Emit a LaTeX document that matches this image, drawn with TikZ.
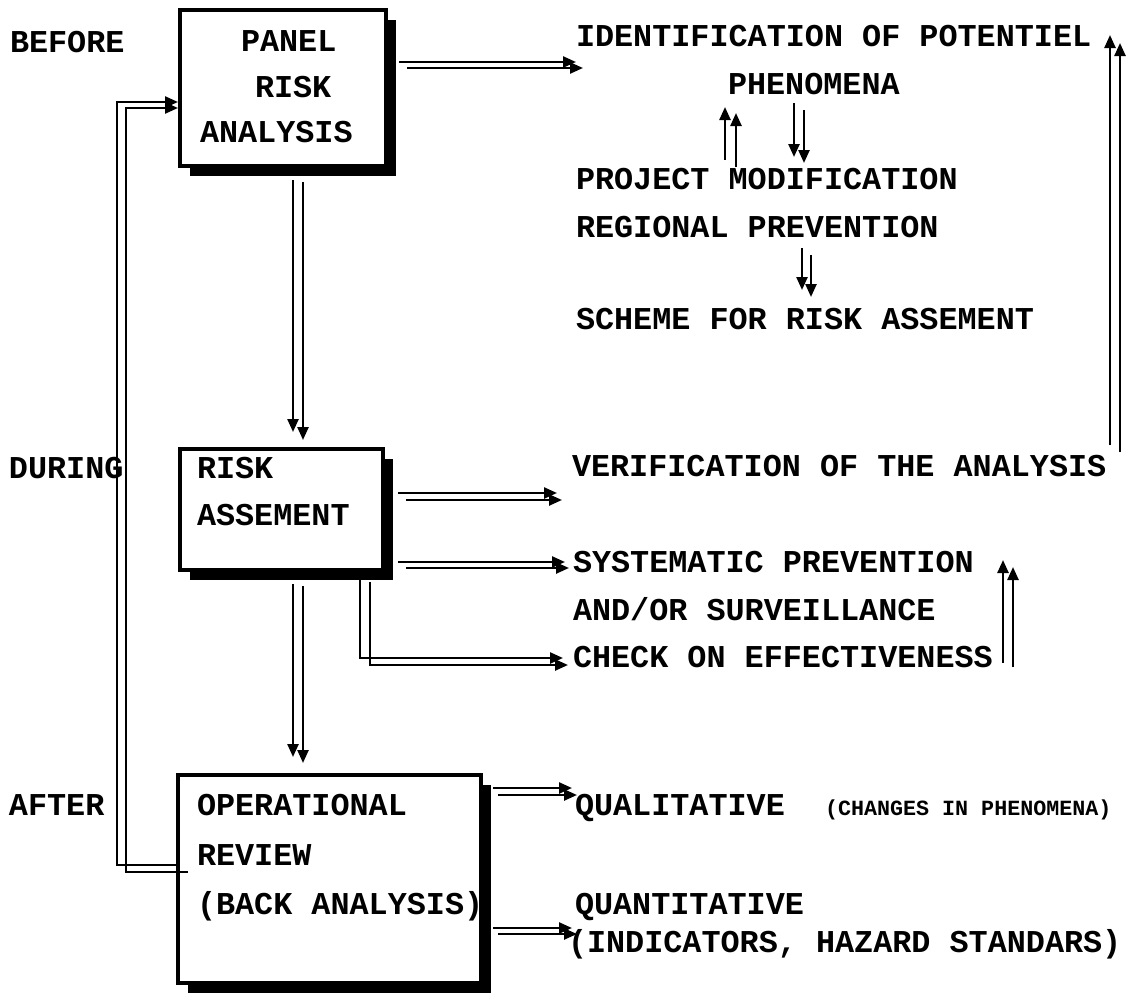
\documentclass[tikz,border=0pt]{standalone}
\usepackage{fontspec}
\newfontfamily\cour{Liberation Mono}
\usetikzlibrary{arrows.meta,calc,shadows}
\begin{document}
\begin{tikzpicture}[x=1pt,y=-1pt,
  lab/.style={anchor=base west, inner sep=0pt, outer sep=0pt, font=\cour\bfseries\fontsize{31.8pt}{36pt}\selectfont},
  smalllab/.style={anchor=base west, inner sep=0pt, outer sep=0pt, font=\cour\bfseries\fontsize{21.7pt}{26pt}\selectfont},
  box/.style={draw=black, line width=4pt, fill=white, rectangle, inner sep=0pt,
    general shadow={fill=black, shadow xshift=10pt, shadow yshift=-10pt}},
  arr/.style={line width=2.4pt, -{Triangle[length=13pt,width=11pt]}}]
\useasboundingbox (0,0) rectangle (1133,993);
\fill[white] (0,0) rectangle (1133,993);
% boxes
\node[box, minimum width=206pt, minimum height=156pt] (b1) at (283,88) {};
\node[box, minimum width=203pt, minimum height=121pt] (b2) at (281.5,509.5) {};
\node[box, minimum width=303pt, minimum height=208pt] (b3) at (329.5,879) {};
% texts
\node[lab] (before) at (10,52) {BEFORE};
\node[lab] (panel) at (241,51) {PANEL};
\node[lab] (riska) at (255,97) {RISK};
\node[lab] (analysis) at (200,142) {ANALYSIS};
\node[lab] (ident) at (576,46) {IDENTIFICATION OF POTENTIEL};
\node[lab] (phen) at (728,94) {PHENOMENA};
\node[lab] (proj) at (576,189) {PROJECT MODIFICATION};
\node[lab] (reg) at (576,237) {REGIONAL PREVENTION};
\node[lab] (scheme) at (576,329) {SCHEME FOR RISK ASSEMENT};
\node[lab] (during) at (9,478) {DURING};
\node[lab] (riskb) at (197,478) {RISK};
\node[lab] (assement) at (197,525) {ASSEMENT};
\node[lab] (verif) at (572,476) {VERIFICATION OF THE ANALYSIS};
\node[lab] (syst) at (573,572) {SYSTEMATIC PREVENTION};
\node[lab] (andor) at (573,620) {AND/OR SURVEILLANCE};
\node[lab] (check) at (573,667) {CHECK ON EFFECTIVENESS};
\node[lab] (after) at (9,815) {AFTER};
\node[lab] (oper) at (197,815) {OPERATIONAL};
\node[lab] (review) at (197,865) {REVIEW};
\node[lab] (back) at (197,914) {(BACK ANALYSIS)};
\node[lab] (qual) at (575,815) {QUALITATIVE};
\node[smalllab] (changes) at (825,815) {(CHANGES IN PHENOMENA)};
\node[lab] (quant) at (575,914) {QUANTITATIVE};
\node[lab] (indic) at (568,952) {(INDICATORS, HAZARD STANDARS)};
% box1 -> identification
\draw[arr] ($(b1.north east)+(11,54)$) -- ($(ident.base west)+(0,16)$);
\draw[arr] ($(b1.north east)+(19,60)$) -- ($(ident.base west)+(7,22)$);
% project <-> phenomena
\draw[arr] ($(proj.base west)+(149,-29)$) -- ($(phen.base west)+(-3,13)$);
\draw[arr] ($(proj.base west)+(160,-22)$) -- ($(phen.base west)+(8,19)$);
\draw[arr] ($(phen.base west)+(66,9)$) -- ($(proj.base west)+(218,-32)$);
\draw[arr] ($(phen.base west)+(76,16)$) -- ($(proj.base west)+(228,-26)$);
% regional -> scheme
\draw[arr] ($(reg.base west)+(226,11)$) -- ($(scheme.base west)+(226,-39)$);
\draw[arr] ($(reg.base west)+(235,18)$) -- ($(scheme.base west)+(235,-32)$);
% verification -> identification
\draw[arr] ($(verif.base west)+(538,-31)$) -- ($(ident.base west)+(534,-11)$);
\draw[arr] ($(verif.base west)+(548,-24)$) -- ($(ident.base west)+(544,-3)$);
% box1 -> box2
\draw[arr] ($(b1.south)+(10,12)$) -- ($(b2.north)+(11.5,-15)$);
\draw[arr] ($(b1.south)+(20,14)$) -- ($(b2.north)+(21.5,-7)$);
% box2 -> verification
\draw[arr] ($(b2.north east)+(13,46)$) -- ($(verif.base west)+(-15,17)$);
\draw[arr] ($(b2.north east)+(21,53)$) -- ($(verif.base west)+(-10,24)$);
% box2 -> systematic
\draw[arr] ($(b2.north east)+(13,115)$) -- ($(syst.base west)+(-8,-10)$);
\draw[arr] ($(b2.north east)+(21,121)$) -- ($(syst.base west)+(-4,-4)$);
% box2 -> check
\draw[arr] ($(b2.south east)+(-25,8)$) |- ($(check.base west)+(-10,-9)$);
\draw[arr] ($(b2.south east)+(-15,10)$) |- ($(check.base west)+(-5,-2)$);
% check -> systematic
\draw[arr] ($(check.base west)+(430,-4)$) -- ($(syst.base west)+(430,-12)$);
\draw[arr] ($(check.base west)+(440,0)$) -- ($(syst.base west)+(440,-5)$);
% box2 -> box3
\draw[arr] ($(b2.south)+(11.5,12)$) -- ($(b3.north)+(-36.5,-16)$);
\draw[arr] ($(b2.south)+(21.5,14)$) -- ($(b3.north)+(-26.5,-10)$);
% feedback box3 -> box1
\draw[arr] ($(b3.north west)+(0,92)$) -- ++(-59,0) |- ($(b1.west)+(0,14)$);
\draw[arr] ($(b3.north west)+(12,99)$) -- ++(-62,0) |- ($(b1.west)+(0,20)$);
% box3 -> qualitative
\draw[arr] ($(b3.north east)+(10,15)$) -- ($(qual.base west)+(-3,-27)$);
\draw[arr] ($(b3.north east)+(15,22)$) -- ($(qual.base west)+(2,-20)$);
% box3 -> quantitative
\draw[arr] ($(b3.north east)+(10,155)$) -- ($(indic.base west)+(4,-24)$);
\draw[arr] ($(b3.north east)+(15,161)$) -- ($(indic.base west)+(9,-18)$);
\end{tikzpicture}
\end{document}
